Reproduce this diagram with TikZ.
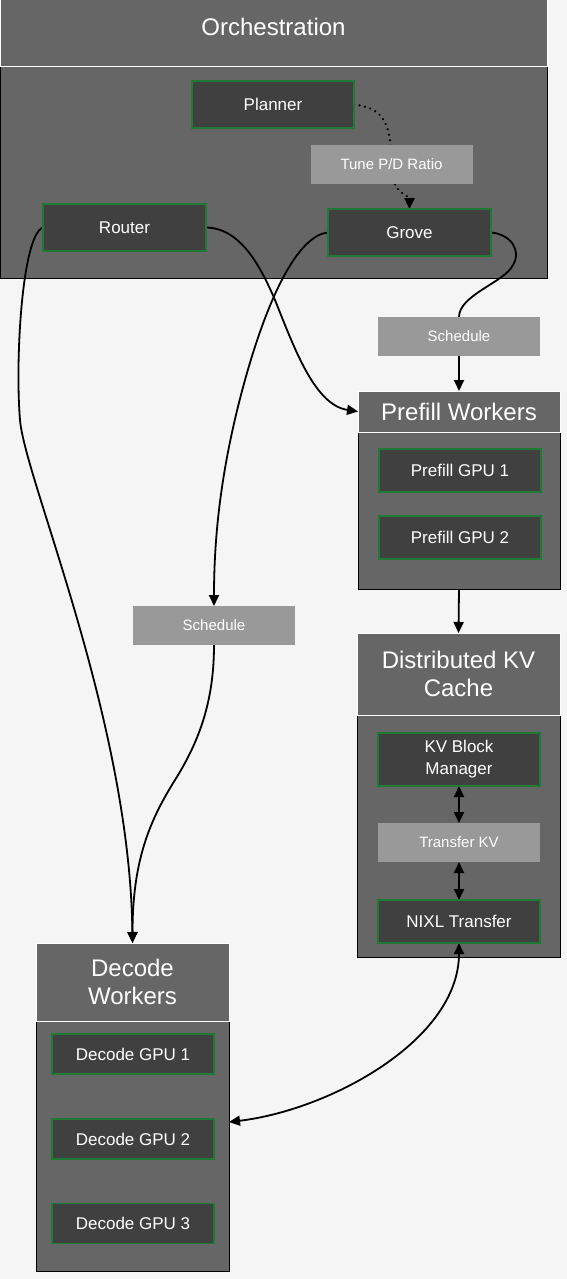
\documentclass[tikz,border=0pt]{standalone}
\usepackage{fontspec}
\setmainfont{Liberation Sans}
\usetikzlibrary{arrows.meta,calc}
\pgfdeclarelayer{back}
\pgfdeclarelayer{edges}
\pgfsetlayers{back,edges,main}
\definecolor{bgc}{HTML}{F5F5F5}
\definecolor{clus}{HTML}{666666}
\definecolor{innerc}{HTML}{404040}
\definecolor{lblc}{HTML}{999999}
\definecolor{grn}{HTML}{1F7A34}
\begin{document}
\begin{tikzpicture}[x=1pt,y=-1pt,
 box/.style={rectangle, inner sep=0pt, outer sep=0pt},
 chead/.style={box, fill=clus, draw=white, line width=1pt, text=white, font=\fontsize{24}{28}\selectfont, align=center},
 cbody/.style={box, fill=clus, draw=black, line width=1pt},
 inbox/.style={box, fill=innerc, draw=grn, line width=1.6pt, text=white, font=\fontsize{17}{22}\selectfont, align=center, minimum width=162pt, minimum height=43pt},
 lbl/.style={box, fill=lblc, text=white, font=\fontsize{15}{18}\selectfont, minimum width=162pt, minimum height=39pt},
 conn/.style={draw=black, line width=1.8pt},
 arr/.style={-{Triangle[length=11pt,width=10pt]}},
 darr/.style={{Triangle[length=11pt,width=10pt]}-{Triangle[length=11pt,width=10pt]}},
]
\useasboundingbox (0,0) rectangle (567,1279);
\begin{pgfonlayer}{back}
\fill[bgc] (0,0) rectangle (567,1279);
% Orchestration cluster
\node[cbody, minimum width=547pt, minimum height=211pt] (orchB) at (273.5,172.5) {};
\node[chead, minimum width=547pt, minimum height=67pt] (orchH) at (273.5,33.5) {};
% Prefill cluster
\node[cbody, minimum width=202pt, minimum height=157pt] (prefB) at (459,510.5) {};
\node[chead, minimum width=202pt, minimum height=41pt] (prefH) at (459,411.5) {Prefill Workers};
% KV cluster
\node[cbody, minimum width=203pt, minimum height=242pt] (kvB) at (458.5,836) {};
\node[chead, minimum width=203pt, minimum height=82pt] (kvH) at (458.5,674) {Distributed KV\\Cache};
% Decode cluster
\node[cbody, minimum width=193pt, minimum height=250pt] (decB) at (132.5,1146) {};
\node[chead, minimum width=193pt, minimum height=78pt] (decH) at (132.5,982) {Decode\\Workers};
\end{pgfonlayer}
\node[text=white, font=\fontsize{24}{28}\selectfont] (orchT) at (273.5,27) {Orchestration};

% inner nodes
\node[inbox, minimum height=47pt] (planner) at (273,104.5) {Planner};
\node[lbl] (tune) at (391.5,164.5) {Tune P/D Ratio};
\node[inbox, minimum width=163pt, minimum height=47pt] (router) at (124.5,227.5) {Router};
\node[inbox, minimum width=163pt, minimum height=47pt] (grove) at (409.5,232.5) {Grove};
\node[lbl] (schedR) at (459,336.5) {Schedule};
\node[inbox] (pgpu1) at (460,470.5) {Prefill GPU 1};
\node[inbox] (pgpu2) at (460,537.5) {Prefill GPU 2};
\node[inbox, minimum height=53pt] (kvbm) at (459,759.5) {KV Block\\Manager};
\node[lbl] (transkv) at (459,842.5) {Transfer KV};
\node[inbox] (nixl) at (459,921.5) {NIXL Transfer};
\node[lbl] (schedL) at (214,625.5) {Schedule};
\node[inbox, minimum height=40pt] (dg1) at (133,1054) {Decode GPU 1};
\node[inbox, minimum height=40pt] (dg2) at (133,1139) {Decode GPU 2};
\node[inbox, minimum height=40pt] (dg3) at (133,1223.5) {Decode GPU 3};
\coordinate (decIn) at ($(decB.north east)+(0,101)$);

\begin{pgfonlayer}{edges}
% Planner -> Grove (dotted)
\draw[conn, arr, line width=2.4pt, line cap=round, dash pattern=on 0.1pt off 5.5pt] (planner.east) .. controls (385,108) and (391,125) .. (tune.center) .. controls (391,195) and (409.5,195) .. (grove.north);
% Router -> Decode
\draw[conn, arr] (router.west) .. controls (22,235) and (15,360) .. (20,420) .. controls (25,480) and (130,720) .. (decH.north);
% Router -> Prefill
\draw[conn, arr] (router.east) .. controls (240,228) and (260,265) .. (275,300) .. controls (295,350) and (315,405) .. (prefH.west);
% Grove -> Schedule (left)
\draw[conn, arr] (grove.west) .. controls (300,235) and (270,290) .. (245,380) .. controls (220,470) and (214,540) .. (schedL.north);
% Schedule (left) -> Decode
\draw[conn, arr] (schedL.south) .. controls (214,700) and (200,740) .. (175,780) .. controls (150,820) and (132.5,860) .. (decH.north);
% Grove -> Schedule (right) -> Prefill
\draw[conn] (grove.east) .. controls (510,234) and (522,250) .. (513,265) .. controls (505,282) and (459,295) .. (schedR.north);
\draw[conn, arr] (schedR.south) -- (prefH.north);
% Prefill -> KV
\draw[conn, arr] (prefB.south) -- (kvH.north);
% KV block <-> transfer <-> NIXL
\draw[conn, darr] (kvbm.south) -- (transkv.north);
\draw[conn, darr] (transkv.south) -- (nixl.north);
% NIXL <-> Decode
\draw[conn, darr] (nixl.south) .. controls (459,1040) and (330,1110) .. (decIn);
\end{pgfonlayer}
\end{tikzpicture}
\end{document}
